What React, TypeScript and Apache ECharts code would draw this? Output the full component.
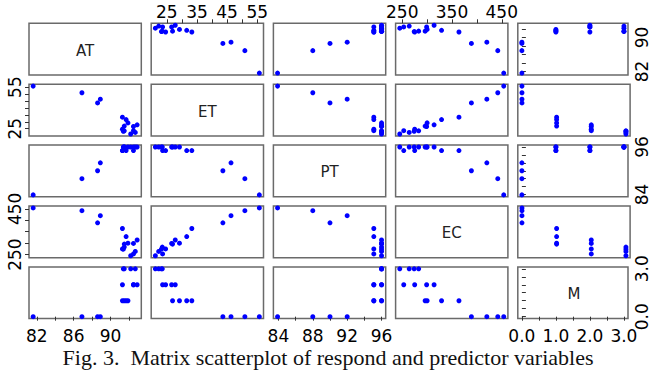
import React, { useEffect, useRef } from "react";
import * as echarts from "echarts";

// Variables of the matrix
const VARS = ["AT", "ET", "PT", "EC", "M"];

const AT = [92.2, 92.7, 91.4, 91.5, 92.5, 91.3, 92.5, 92.9, 91.5, 91.9, 91.7, 91.3, 88.6, 88.9, 86.9, 81.6];
const ET = [21.2, 22.3, 23.2, 23.5, 23.6, 24.6, 26.6, 27.8, 26.9, 29.2, 31.6, 33.3, 43.6, 46.3, 50.9, 55.7];
const PT = [96.0, 96.0, 96.0, 96.0, 95.1, 95.1, 96.0, 96.0, 96.0, 96.0, 95.1, 95.1, 90.0, 92.0, 88.0, 83.9];
const EC = [245, 264, 274, 283, 253, 275, 299, 314, 296, 300, 329, 364, 389, 420, 442, 454];
const M = [3, 3, 3, 3, 2, 2, 2, 2, 1, 1, 1, 1, 0, 0, 0, 0];

// Tick marks and tick labels
const AT_TICKS = [82, 84, 86, 88, 90, 92];
const AT_LABELS_H = [82, 86, 90];
const AT_LABELS_V = [82, 90];
const ET_TICKS = [25, 30, 35, 40, 45, 50, 55];
const ET_LABELS_H = [25, 35, 45, 55];
const ET_LABELS_V = [25, 55];
const PT_TICKS = [84, 86, 88, 90, 92, 94, 96];
const PT_LABELS_H = [84, 88, 92, 96];
const PT_LABELS_V = [84, 96];
const EC_TICKS = [250, 300, 350, 400, 450];
const EC_LABELS_H = [250, 350, 450];
const EC_LABELS_V = [250, 450];
const M_TICKS = [0, 0.5, 1, 1.5, 2, 2.5, 3];
const M_LABELS_H = [0, 1, 2, 3];
const M_LABELS_V = [0, 3];

const CAPTION = "Fig. 3.\u00a0 Matrix scatterplot of respond and predictor variables";

const DATA = [AT, ET, PT, EC, M];
const TICKS = [AT_TICKS, ET_TICKS, PT_TICKS, EC_TICKS, M_TICKS];
const LABELS_H = [AT_LABELS_H, ET_LABELS_H, PT_LABELS_H, EC_LABELS_H, M_LABELS_H];
const LABELS_V = [AT_LABELS_V, ET_LABELS_V, PT_LABELS_V, EC_LABELS_V, M_LABELS_V];
const DECIMALS = [0, 0, 0, 0, 1];

// Layout
const X0 = 29;
const DX = 122.2;
const W = 112.3;
const Y0 = 23.3;
const DY = 60.9;
const H = 51.7;
const N = 5;

function paddedRange(arr: number[]): [number, number] {
  const mn = Math.min(...arr);
  const mx = Math.max(...arr);
  const p = (mx - mn) * 0.04;
  return [mn - p, mx + p];
}

const LABEL_FONT = {
  fontFamily: "DejaVu Sans",
  fontSize: 17,
  lineHeight: 15,
  color: "#000",
};

export default function App() {
  const ref = useRef<HTMLDivElement>(null);

  useEffect(() => {
    if (!ref.current) return;
    const chart = echarts.init(ref.current, null, { renderer: "svg" });

    const grids: any[] = [];
    const xAxes: any[] = [];
    const yAxes: any[] = [];
    const series: any[] = [];
    const graphics: any[] = [];

    for (let i = 0; i < N; i++) {
      for (let j = 0; j < N; j++) {
        const k = i * N + j;
        const left = X0 + j * DX;
        const top = Y0 + i * DY;
        grids.push({
          left,
          top,
          width: W,
          height: H,
          show: true,
          borderColor: "#6a6a6a",
          borderWidth: 1.5,
          backgroundColor: "#fff",
        });
        const [xmin, xmax] = paddedRange(DATA[j]);
        const [ymin, ymax] = paddedRange(DATA[i]);
        const showTop = i === 0 && j % 2 === 1;
        const showBottom = i === N - 1 && j % 2 === 0;
        const showLeft = j === 0 && i % 2 === 1;
        const showRight = j === N - 1 && i % 2 === 0;
        xAxes.push({
          gridIndex: k,
          type: "value",
          min: xmin,
          max: xmax,
          show: showTop || showBottom,
          position: showTop ? "top" : "bottom",
          axisLine: { show: false },
          splitLine: { show: false },
          axisTick: {
            show: true,
            length: 4,
            customValues: TICKS[j],
            lineStyle: { color: "#333", width: 1 },
          },
          axisLabel: {
            ...LABEL_FONT,
            customValues: LABELS_H[j],
            margin: showTop ? 4 : 10,
            formatter: (v: number) => v.toFixed(DECIMALS[j]),
          },
        });
        yAxes.push({
          gridIndex: k,
          type: "value",
          min: ymin,
          max: ymax,
          show: showLeft || showRight,
          position: showLeft ? "left" : "right",
          axisLine: { show: false },
          splitLine: { show: false },
          axisTick: {
            show: true,
            length: 4,
            customValues: TICKS[i],
            lineStyle: { color: "#333", width: 1 },
          },
          axisLabel: {
            ...LABEL_FONT,
            customValues: LABELS_V[i],
            rotate: 90,
            margin: showLeft ? 7 : 6,
            formatter: (v: number) => v.toFixed(DECIMALS[i]),
          },
        });
        if (i !== j) {
          series.push({
            type: "scatter",
            xAxisIndex: k,
            yAxisIndex: k,
            data: DATA[j].map((v, n) => [v, DATA[i][n]]),
            symbol: "circle",
            symbolSize: 5,
            itemStyle: { color: "#0000ff", opacity: 1 },
            silent: true,
          });
        } else {
          graphics.push({
            type: "text",
            x: left + W / 2,
            y: top + H / 2 + 1.5,
            style: {
              text: VARS[i],
              fontFamily: "DejaVu Sans",
              fontSize: 15,
              fill: "#222",
              textAlign: "center",
              textVerticalAlign: "middle",
            },
          });
        }
      }
    }

    graphics.push({
      type: "text",
      x: 328,
      y: 357,
      style: {
        text: CAPTION,
        fontFamily: "Liberation Serif",
        fontSize: 22,
        lineHeight: 18,
        fill: "#111",
        textAlign: "center",
        textVerticalAlign: "middle",
      },
    });

    chart.setOption({
      animation: false,
      backgroundColor: "#fff",
      grid: grids,
      xAxis: xAxes,
      yAxis: yAxes,
      series,
      graphic: graphics,
    });

    return () => chart.dispose();
  }, []);

  return (
    <div
      ref={ref}
      style={{ position: "fixed", left: 0, top: 0, width: 650, height: 375 }}
    />
  );
}
